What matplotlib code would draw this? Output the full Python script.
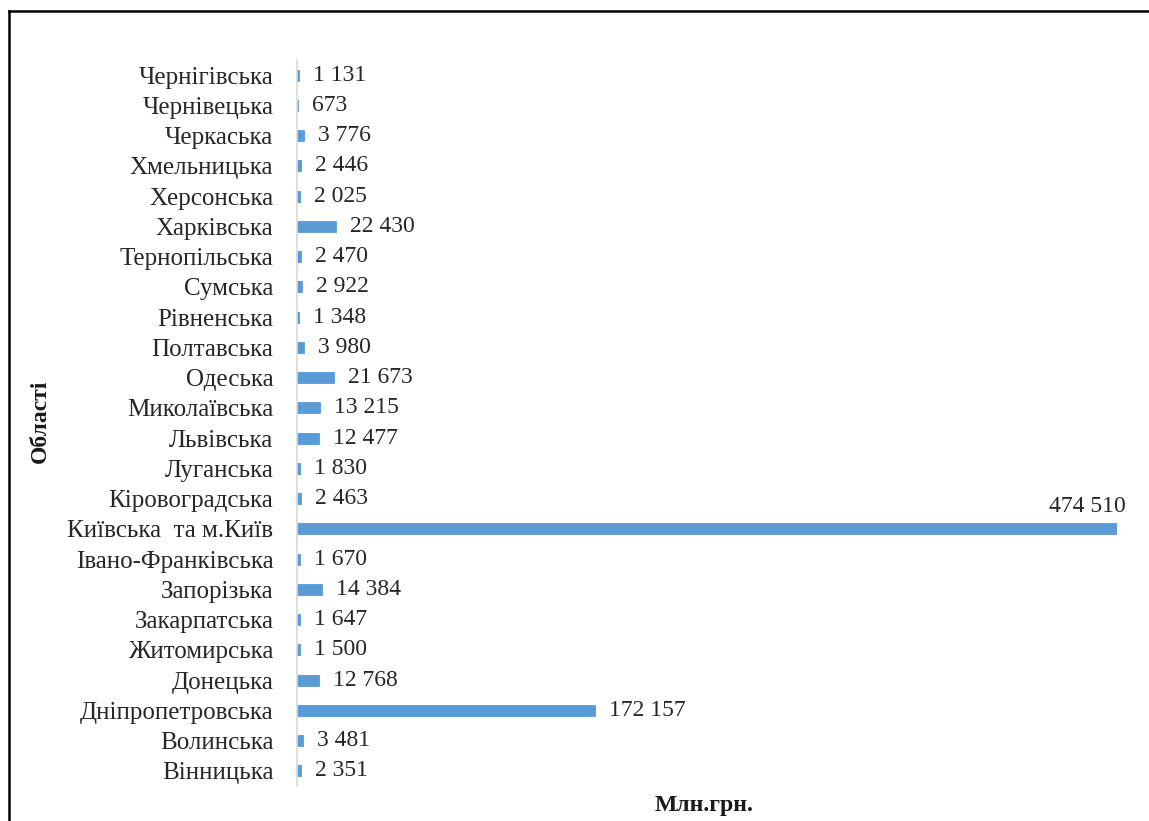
import matplotlib
matplotlib.use("Agg")
import matplotlib.pyplot as plt
from matplotlib.lines import Line2D

plt.rcParams['font.family'] = ['Liberation Serif', 'DejaVu Serif']

regions = [
    "Вінницька", "Волинська", "Дніпропетровська", "Донецька", "Житомирська",
    "Закарпатська", "Запорізька", "Івано-Франківська", "Київська  та м.Київ",
    "Кіровоградська", "Луганська", "Львівська", "Миколаївська", "Одеська",
    "Полтавська", "Рівненська", "Сумська", "Тернопільська", "Харківська",
    "Херсонська", "Хмельницька", "Черкаська", "Чернівецька", "Чернігівська",
]
values = [
    2351, 3481, 172157, 12768, 1500,
    1647, 14384, 1670, 474510,
    2463, 1830, 12477, 13215, 21673,
    3980, 1348, 2922, 2470, 22430,
    2025, 2446, 3776, 673, 1131,
]

W, H = 1149, 821
fig = plt.figure(figsize=(W / 100, H / 100), dpi=100)
ax = fig.add_axes([297 / W, 1 - 786 / H, (1117 - 297) / W, (786 - 60) / H])

ypos = list(range(len(regions)))
ax.barh(ypos, values, height=0.36, color="#5B9BD5", edgecolor="#5B9BD5", linewidth=0.6)
ax.set_xlim(0, max(values))
ax.set_ylim(-0.5, len(regions) - 0.5)

ax.set_yticks(ypos)
ax.set_yticklabels(regions, fontsize=18, color="#262626")
ax.tick_params(axis="y", length=0, pad=17)
ax.set_xticks([])
for side in ("top", "right", "bottom"):
    ax.spines[side].set_visible(False)
ax.spines["left"].set_color("#D9D9D9")
ax.spines["left"].set_linewidth(1.2)


def fmt(v):
    return f"{v:,}".replace(",", " ")


top = max(values)
for y, v in zip(ypos, values):
    if v == top:
        ax.annotate(fmt(v), xy=(v, y), xytext=(9, 12), textcoords="offset pixels",
                    ha="right", va="bottom", fontsize=17, color="#262626",
                    annotation_clip=False)
    else:
        ax.annotate(fmt(v), xy=(v, y), xytext=(14, 0), textcoords="offset pixels",
                    ha="left", va="center", fontsize=17, color="#262626",
                    annotation_clip=False)

fig.text(40 / W, 1 - 421 / H, "Області", rotation=90, ha="center", va="center",
         fontsize=17, fontweight="bold", color="#1a1a1a")
fig.text(704 / W, 1 - 805 / H, "Млн.грн.", ha="center", va="center",
         fontsize=17, fontweight="bold", color="#1a1a1a")

# outer frame (left and top edges)
fig.add_artist(Line2D([9 / W, 9 / W], [0, 1 - 11 / H], transform=fig.transFigure,
                      color="black", linewidth=1.8))
fig.add_artist(Line2D([9 / W, 1], [1 - 11 / H, 1 - 11 / H], transform=fig.transFigure,
                      color="black", linewidth=1.8))

fig.savefig("out.png", dpi=100)
